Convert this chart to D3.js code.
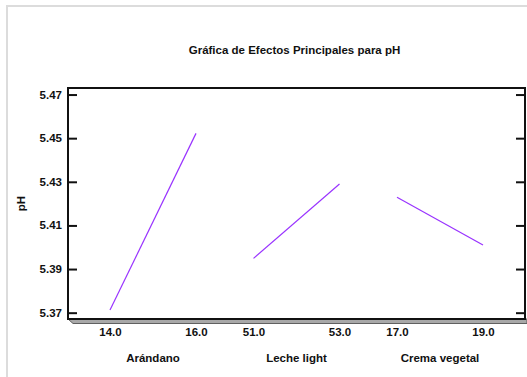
<!DOCTYPE html>
<html><head><meta charset="utf-8">
<script src="https://cdn.jsdelivr.net/npm/d3@7"></script>
<style>html,body{margin:0;padding:0;background:#fff;}svg{display:block;}</style>
</head><body>
<script>
const factors = ["Arándano", "Leche light", "Crema vegetal"];
const lowLevels = [14.0, 51.0, 17.0];
const highLevels = [16.0, 53.0, 19.0];
const lowMeans = [5.3712, 5.3949, 5.4229];
const highMeans = [5.4522, 5.4290, 5.4010];
const yTicks = [5.37, 5.39, 5.41, 5.43, 5.45, 5.47];
const title = "Gráfica de Efectos Principales para pH";
const yLabel = "pH";

const W = 527, H = 377;
const L = 68, R = 525, T = 88, B = 319;
const font = "'Liberation Sans', Arial, sans-serif";

const svg = d3.select("body").append("svg").attr("width", W).attr("height", H);

// outer frame
svg.append("path").attr("d", `M7,${H} V6 H${W}`).attr("fill", "none")
  .attr("stroke", "#dcdcdc").attr("stroke-width", 2);

const y = d3.scaleLinear().domain([5.3671, 5.4730]).range([B, T]);
const xb = d3.scaleBand().domain(factors).range([L, R]).paddingInner(0.4007).paddingOuter(0.2927);

// shadow under the plot box
svg.append("polygon")
  .attr("points", `${L},${B} ${L+5},${B+4.5} ${W},${B+4.5} ${W},${B}`)
  .attr("fill", "#a8a8a8").attr("stroke", "#606060").attr("stroke-width", 1);

// plot box
svg.append("rect").attr("x", L).attr("y", T).attr("width", R - L).attr("height", B - T)
  .attr("fill", "#fff").attr("stroke", "#111").attr("stroke-width", 2);

// y axes (ticks inside)
const axL = d3.axisRight(y).tickValues(yTicks).tickSize(9).tickFormat("");
const gL = svg.append("g").attr("transform", `translate(${L},0)`).call(axL);
gL.select(".domain").remove();
gL.selectAll("line").attr("stroke", "#111").attr("stroke-width", 2);
const axR = d3.axisLeft(y).tickValues(yTicks).tickSize(9).tickFormat("");
const gR = svg.append("g").attr("transform", `translate(${R},0)`).call(axR);
gR.select(".domain").remove();
gR.selectAll("line").attr("stroke", "#111").attr("stroke-width", 2);

// y tick labels
svg.append("g").selectAll("text").data(yTicks).join("text")
  .attr("x", 62).attr("y", d => y(d)).attr("dy", "0.35em")
  .attr("text-anchor", "end").attr("font-family", font).attr("font-weight", "bold")
  .attr("font-size", "11.5px").attr("fill", "#111").text(d => d.toFixed(2));

// y label
svg.append("text").attr("transform", `translate(25,${(T + B) / 2}) rotate(-90)`)
  .attr("text-anchor", "middle").attr("font-family", font).attr("font-weight", "bold")
  .attr("font-size", "11.5px").attr("fill", "#111").text(yLabel);

// title
svg.append("text").attr("x", (L + R) / 2 - 2).attr("y", 54).attr("text-anchor", "middle")
  .attr("font-family", font).attr("font-weight", "bold").attr("font-size", "11.5px")
  .attr("fill", "#111").text(title);

// effects
factors.forEach((f, i) => {
  const xs = d3.scaleLinear().domain([lowLevels[i], highLevels[i]])
    .range([xb(f), xb(f) + xb.bandwidth()]);
  const pts = [[lowLevels[i], lowMeans[i]], [highLevels[i], highMeans[i]]];
  svg.append("path")
    .attr("d", d3.line().x(d => xs(d[0])).y(d => y(d[1]))(pts))
    .attr("fill", "none").attr("stroke", "#9933ff").attr("stroke-width", 1.2);
  const ax = d3.axisBottom(xs).tickValues([lowLevels[i], highLevels[i]])
    .tickSize(0).tickFormat(d3.format(".1f"));
  const g = svg.append("g").attr("transform", `translate(0,${B + 6})`).call(ax);
  g.select(".domain").remove();
  g.selectAll("text").attr("font-family", font).attr("font-weight", "bold")
    .attr("font-size", "11.5px").attr("fill", "#111");
  svg.append("text").attr("x", xb(f) + xb.bandwidth() / 2).attr("y", 362)
    .attr("text-anchor", "middle").attr("font-family", font).attr("font-weight", "bold")
    .attr("font-size", "11.5px").attr("fill", "#111").text(f);
});
</script>
</body></html>
